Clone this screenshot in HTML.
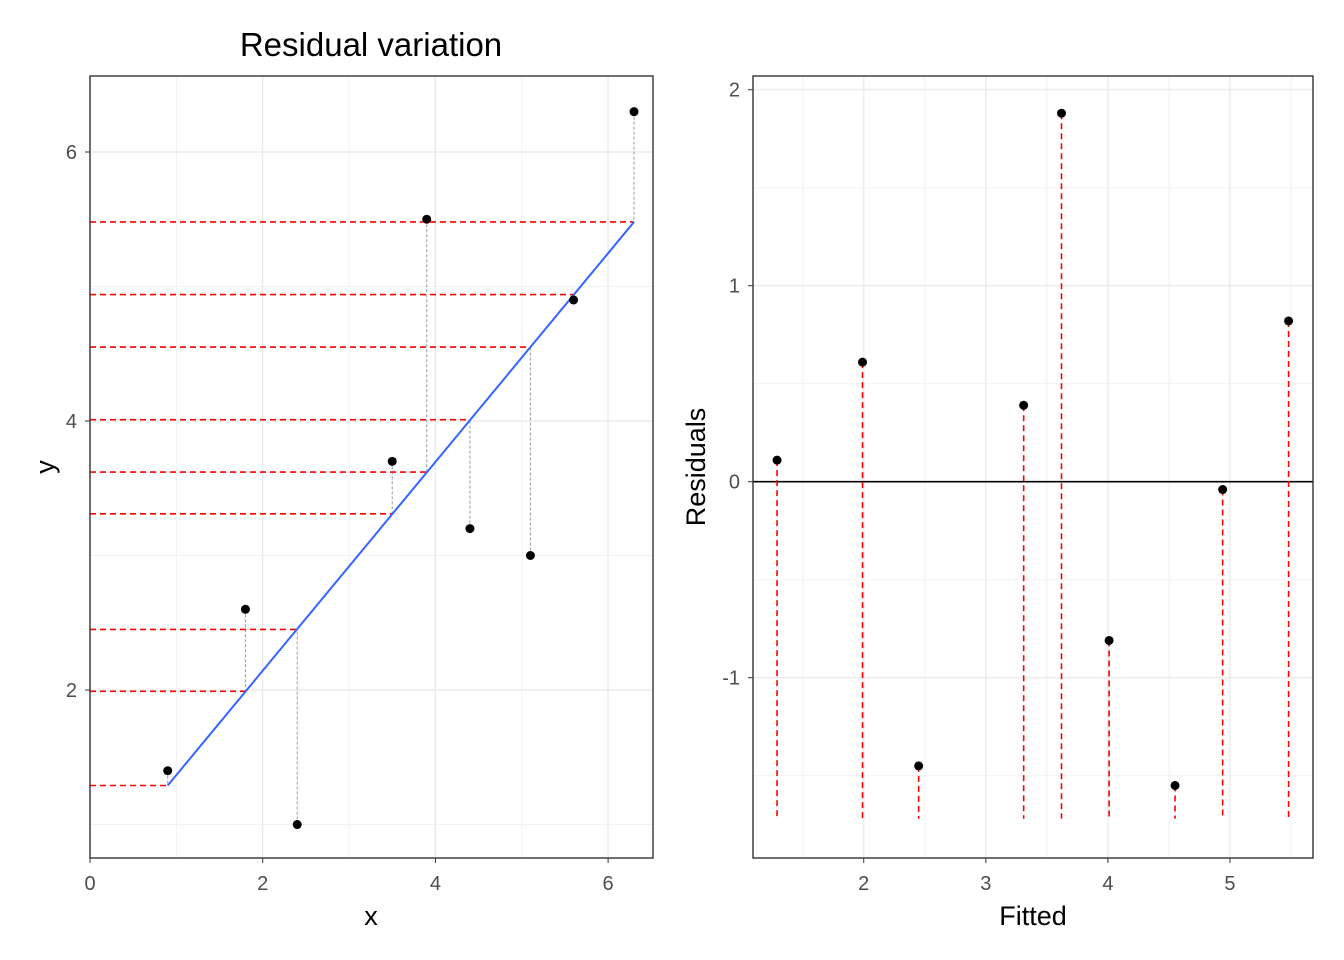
<!DOCTYPE html>
<html><head><meta charset="utf-8"><style>
body{margin:0;background:#fff}
svg{display:block;font-family:"Liberation Sans",Arial,sans-serif}
</style></head><body>
<svg id="c" width="1344" height="960"></svg>
<script>
const xs=[0.9,1.8,2.4,3.5,3.9,4.4,5.1,5.6,6.3];
const ys=[1.4,2.6,1.0,3.7,5.5,3.2,3.0,4.9,6.3];
const fitted=[1.29,1.99,2.45,3.31,3.62,4.01,4.55,4.94,5.48];
const residuals=[0.11,0.61,-1.45,0.39,1.88,-0.81,-1.55,-0.04,0.82];
const segEnd=-1.72;
const leftXTicks=[0,2,4,6];
const leftYTicks=[2,4,6];
const rightXTicks=[2,3,4,5];
const rightYTicks=[-1,0,1,2];
const rightYLabels=["-1","0","1","2"];

const svg=document.getElementById('c');
const NS="http://www.w3.org/2000/svg";
function el(t,a,p){const e=document.createElementNS(NS,t);for(const k in a)e.setAttribute(k,a[k]);(p||svg).appendChild(e);return e;}
function lin(d0,d1,r0,r1){return v=>r0+(v-d0)*(r1-r0)/(d1-d0);}

// Left panel
const L={x0:90,x1:653,y0:76,y1:858};
const lx=lin(0,6.52,L.x0,L.x1), ly=lin(0.751,6.565,L.y1,L.y0);
const gL=el('g',{});


el('rect',{x:L.x0,y:L.y0,width:L.x1-L.x0,height:L.y1-L.y0,fill:'#fff'},gL);
[1,3,5].forEach(v=>{el('line',{x1:lx(v),x2:lx(v),y1:L.y0,y2:L.y1,stroke:'#f2f2f2','stroke-width':1},gL);el('line',{x1:L.x0,x2:L.x1,y1:ly(v),y2:ly(v),stroke:'#f2f2f2','stroke-width':1},gL);});
leftXTicks.forEach(v=>el('line',{x1:lx(v),x2:lx(v),y1:L.y0,y2:L.y1,stroke:'#ebebeb','stroke-width':1.4},gL));
leftYTicks.forEach(v=>el('line',{x1:L.x0,x2:L.x1,y1:ly(v),y2:ly(v),stroke:'#ebebeb','stroke-width':1.4},gL));
xs.forEach((x,i)=>{
  const h=el('line',{x1:L.x0,x2:lx(x),y1:ly(fitted[i]),y2:ly(fitted[i]),stroke:'#ff0000','stroke-width':1.6,'stroke-dasharray':'6,4'},gL);
  
  
  const v=el('line',{x1:lx(x),x2:lx(x),y1:ly(ys[i]),y2:ly(fitted[i]),stroke:'#999','stroke-width':1,'stroke-dasharray':'3,2'},gL);
  
  
});
const reg=el('line',{x1:lx(xs[0]),y1:ly(fitted[0]),x2:lx(xs[8]),y2:ly(fitted[8]),stroke:'#3366ff','stroke-width':2},gL);


xs.forEach((x,i)=>{const c=el('circle',{cx:lx(x),cy:ly(ys[i]),r:4.5,fill:'#000'},gL);

});
el('rect',{x:L.x0,y:L.y0,width:L.x1-L.x0,height:L.y1-L.y0,fill:'none',stroke:'#333','stroke-width':1.4},gL);
leftXTicks.forEach(v=>{el('line',{x1:lx(v),x2:lx(v),y1:L.y1,y2:L.y1+5,stroke:'#333'},gL);const t=el('text',{x:lx(v),y:L.y1+32,'text-anchor':'middle','font-size':20,fill:'#4d4d4d'},gL);t.textContent=v;

});
leftYTicks.forEach(v=>{el('line',{x1:L.x0-5,x2:L.x0,y1:ly(v),y2:ly(v),stroke:'#333'},gL);const t=el('text',{x:L.x0-13,y:ly(v)+7,'text-anchor':'end','font-size':20,fill:'#4d4d4d'},gL);t.textContent=v;

});

// Right panel
const R={x0:753,x1:1313,y0:76,y1:858};
const rx=lin(1.093,5.68,R.x0,R.x1), ry=lin(-1.92,2.07,R.y1,R.y0);
const gR=el('g',{});


[1.5,2.5,3.5,4.5,5.5].forEach(v=>el('line',{x1:rx(v),x2:rx(v),y1:R.y0,y2:R.y1,stroke:'#f2f2f2'},gR));
[-1.5,-0.5,0.5,1.5].forEach(v=>el('line',{x1:R.x0,x2:R.x1,y1:ry(v),y2:ry(v),stroke:'#f2f2f2'},gR));
rightXTicks.forEach(v=>el('line',{x1:rx(v),x2:rx(v),y1:R.y0,y2:R.y1,stroke:'#ebebeb','stroke-width':1.4},gR));
rightYTicks.forEach(v=>el('line',{x1:R.x0,x2:R.x1,y1:ry(v),y2:ry(v),stroke:'#ebebeb','stroke-width':1.4},gR));
const z=el('line',{x1:R.x0,x2:R.x1,y1:ry(0),y2:ry(0),stroke:'#000','stroke-width':1.6},gR);


fitted.forEach((f,i)=>{
  const s=el('line',{x1:rx(f),x2:rx(f),y1:ry(residuals[i]),y2:ry(segEnd),stroke:'#ff0000','stroke-width':1.6,'stroke-dasharray':'6,4'},gR);
  
  
  const c=el('circle',{cx:rx(f),cy:ry(residuals[i]),r:4.5,fill:'#000'},gR);
  
  
});
el('rect',{x:R.x0,y:R.y0,width:R.x1-R.x0,height:R.y1-R.y0,fill:'none',stroke:'#333','stroke-width':1.4},gR);
rightXTicks.forEach(v=>{el('line',{x1:rx(v),x2:rx(v),y1:R.y1,y2:R.y1+5,stroke:'#333'},gR);const t=el('text',{x:rx(v),y:R.y1+32,'text-anchor':'middle','font-size':20,fill:'#4d4d4d'},gR);t.textContent=v;

});
rightYTicks.forEach((v,i)=>{el('line',{x1:R.x0-5,x2:R.x0,y1:ry(v),y2:ry(v),stroke:'#333'},gR);const t=el('text',{x:R.x0-13,y:ry(v)+7,'text-anchor':'end','font-size':20,fill:'#4d4d4d'},gR);t.textContent=rightYLabels[i];

});
</script>
<svg width="1344" height="960" style="position:absolute;left:0;top:0">
<text x="371" y="56" text-anchor="middle" font-size="33" font-family="Liberation Sans,sans-serif">Residual variation</text>
<text x="371" y="925" text-anchor="middle" font-size="27" font-family="Liberation Sans,sans-serif">x</text>
<text transform="translate(54,467) rotate(-90)" text-anchor="middle" font-size="27" font-family="Liberation Sans,sans-serif">y</text>
<text x="1033" y="925" text-anchor="middle" font-size="27" font-family="Liberation Sans,sans-serif">Fitted</text>
<text transform="translate(705,467) rotate(-90)" text-anchor="middle" font-size="27" font-family="Liberation Sans,sans-serif">Residuals</text>
</svg>
</body></html>
